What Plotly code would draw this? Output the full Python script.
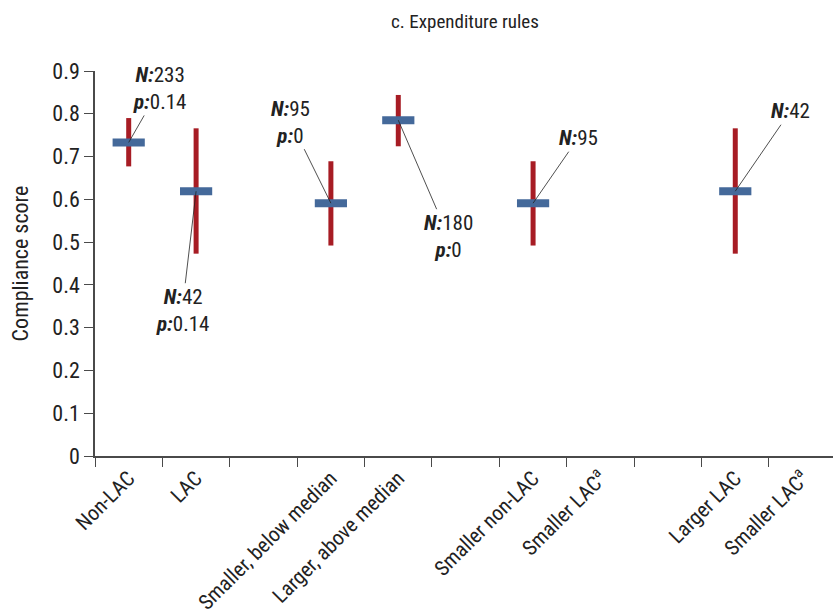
import plotly.graph_objects as go

# ---- data ----
categories = ["Non-LAC", "LAC", "", "Smaller, below median", "Larger, above median", "",
              "Smaller non-LAC", "Smaller LAC<sup>a</sup>", "", "Larger LAC", "Smaller LAC<sup>a</sup>"]
groups = ["Non-LAC", "LAC", "Smaller, below median", "Larger, above median", "Smaller non-LAC", "Larger LAC"]
means = [0.733, 0.619, 0.591, 0.785, 0.591, 0.619]
lower = [0.677, 0.473, 0.492, 0.724, 0.492, 0.473]
upper = [0.790, 0.766, 0.689, 0.844, 0.689, 0.766]
n_obs = [233, 42, 95, 180, 95, 42]
p_vals = ["0.14", "0.14", "0", "0", None, None]
y_ticks = [0, 0.1, 0.2, 0.3, 0.4, 0.5, 0.6, 0.7, 0.8, 0.9]

# label offsets (pixels) for annotations
label_offsets = [(31, -54), (-14, 119), (-40, -81), (50, 116), (45, -65), (55, -80)]

FONT = "Liberation Sans Narrow, Roboto Condensed, Arial Narrow, Liberation Sans, sans-serif"
RED = "#A71C24"
BLUE = "#44699A"
AXIS = "#4a4a4a"

xs = [categories.index(g) for g in groups]

fig = go.Figure()
fig.add_trace(go.Scatter(
    x=xs, y=means, mode="markers",
    marker=dict(size=1, color="rgba(0,0,0,0)"),
    error_y=dict(type="data", symmetric=False,
                 array=[u - m for u, m in zip(upper, means)],
                 arrayminus=[m - l for m, l in zip(means, lower)],
                 color=RED, thickness=5, width=0),
    showlegend=False, hoverinfo="skip"))
fig.add_trace(go.Scatter(
    x=xs, y=means, mode="markers",
    marker=dict(symbol="line-ew", size=23, line=dict(width=8, color=BLUE), color=BLUE),
    showlegend=False))

annotations = []
for x, m, n, p, (ax, ay) in zip(xs, means, n_obs, p_vals, label_offsets):
    txt = f"<b><i>N:</i></b>{n}"
    if p is not None:
        txt += f"<br><b><i>p:</i></b>{p}"
    annotations.append(dict(
        x=x, y=m, xref="x", yref="y", text=txt, showarrow=True,
        arrowhead=0, arrowwidth=0.8, arrowcolor="#222", ax=ax, ay=ay,
        font=dict(family=FONT, size=21, color="#222"), align="center", standoff=0))

fig.update_layout(
    width=833, height=616,
    margin=dict(l=95, r=0, t=71, b=160),
    paper_bgcolor="white", plot_bgcolor="white",
    font=dict(family=FONT, size=20, color="#222"),
    annotations=annotations,
    title=dict(text="c. Expenditure rules", x=465 / 833, xanchor="center",
               y=1 - 21 / 616, yanchor="middle",
               font=dict(family=FONT, size=19, color="#222")),
    xaxis=dict(
        range=[-0.5, 10.45], tickmode="array",
        tickvals=list(range(len(categories))), ticktext=categories,
        tickangle=-45, ticks="", showgrid=False, zeroline=False,
        showline=True, linecolor=AXIS, linewidth=1.5,
        tickfont=dict(family=FONT, size=21, color="#222"),
        minor=dict(tick0=-0.5, dtick=1, ticks="outside", ticklen=9,
                   tickcolor=AXIS, tickwidth=1, showgrid=False)),
    yaxis=dict(
        range=[0, 0.9], tickmode="array", tickvals=y_ticks,
        ticktext=[f"{v:g}" for v in y_ticks],
        ticks="outside", ticklen=9, tickcolor=AXIS, tickwidth=1,
        showgrid=False, zeroline=False, showline=True, linecolor=AXIS, linewidth=1.5,
        tickfont=dict(family=FONT, size=22, color="#222"),
        title=dict(text="Compliance score", standoff=18,
                   font=dict(family=FONT, size=22, color="#222"))),
)

fig.write_html("out.html")
